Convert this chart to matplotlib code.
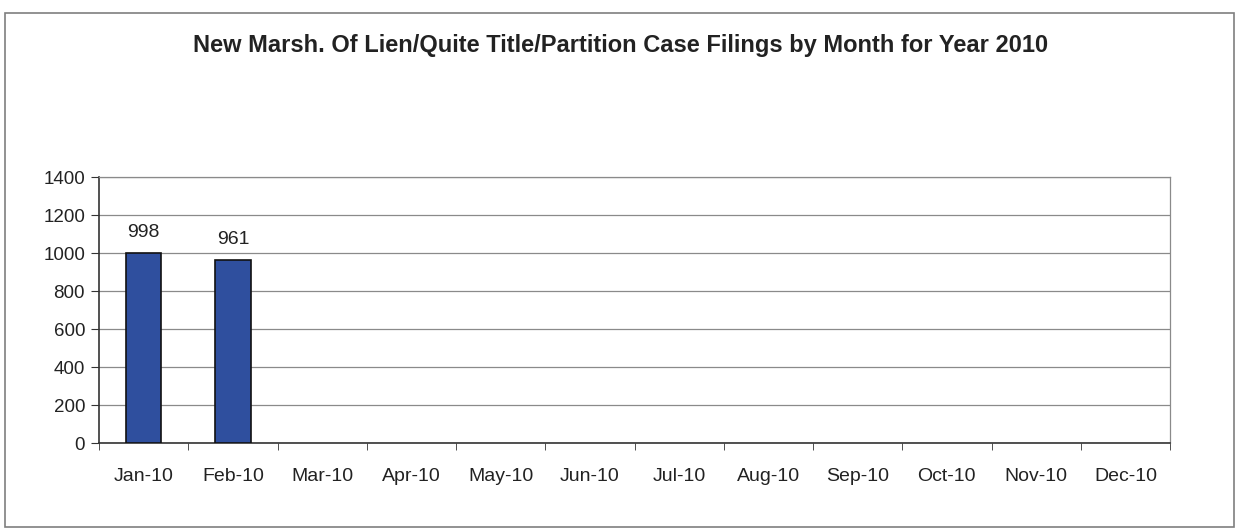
import matplotlib.pyplot as plt
from matplotlib.patches import Rectangle

plt.rcParams['font.family'] = ['Liberation Sans', 'DejaVu Sans']

months = ['Jan-10', 'Feb-10', 'Mar-10', 'Apr-10', 'May-10', 'Jun-10',
          'Jul-10', 'Aug-10', 'Sep-10', 'Oct-10', 'Nov-10', 'Dec-10']
filings = [998, 961, None, None, None, None, None, None, None, None, None, None]
yticks = [0, 200, 400, 600, 800, 1000, 1200, 1400]

W, H = 1237, 529
fig = plt.figure(figsize=(W / 100, H / 100), dpi=100)

# outer chart frame
fig.patches.append(Rectangle((5 / W, 1 - 527 / H), 1229 / W, 514 / H,
                             transform=fig.transFigure, fill=False,
                             edgecolor='#7f7f7f', linewidth=1.2))

ax = fig.add_axes([99 / W, 1 - 443 / H, (1170 - 99) / W, (443 - 177) / H])

xs = [i for i, v in enumerate(filings) if v is not None]
vals = [v for v in filings if v is not None]
ax.bar(xs, vals, width=0.4, color='#2f4f9e', edgecolor='#111111', linewidth=1.2, zorder=3)
for x, v in zip(xs, vals):
    ax.text(x, v + 65, str(v), ha='center', va='bottom', fontsize=14, color='#222222')

ax.set_xlim(-0.5, 11.5)
ax.set_ylim(0, 1400)
ax.set_yticks(yticks)
ax.set_yticklabels([str(t) for t in yticks], fontsize=13.5, color='#222222')

# category labels centred, ticks between categories
ax.set_xticks(range(len(months)))
ax.set_xticklabels(months, fontsize=14, color='#222222')
ax.tick_params(axis='x', length=0, pad=18)
ax.set_xticks([i - 0.5 for i in range(len(months) + 1)], minor=True)
ax.tick_params(axis='x', which='minor', length=5, color='#333333', direction='out')
ax.tick_params(axis='y', length=6, color='#333333', direction='out', pad=4)

ax.grid(axis='y', color='#8a8a8a', linewidth=0.9, zorder=0)
ax.set_axisbelow(True)
for side in ['top', 'right']:
    ax.spines[side].set_color('#8a8a8a')
    ax.spines[side].set_linewidth(0.9)
for side in ['left', 'bottom']:
    ax.spines[side].set_color('#333333')
    ax.spines[side].set_linewidth(1.2)

fig.text(621 / W, 1 - 46 / H,
         'New Marsh. Of Lien/Quite Title/Partition Case Filings by Month for Year 2010',
         ha='center', va='center', fontsize=17, fontweight='bold', color='#222222')

fig.savefig('out.png', dpi=100)
